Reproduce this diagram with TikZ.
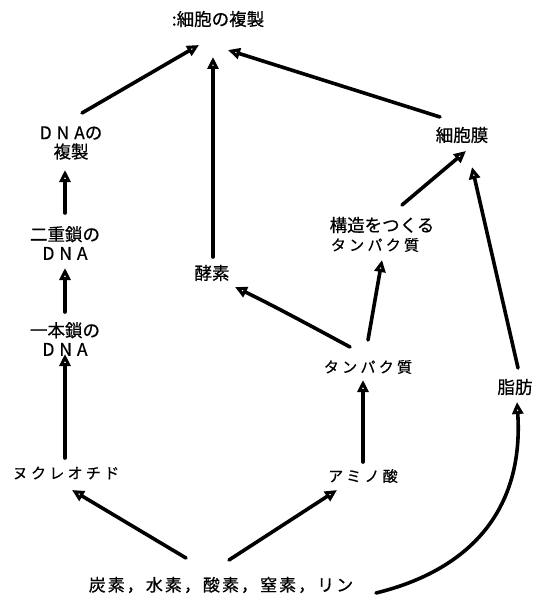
\documentclass[tikz,border=0pt]{standalone}
\usepackage{fontspec}
\setmainfont{Noto Sans CJK JP}
\newfontfamily\jp[FakeBold=0.6]{Noto Sans CJK JP}
\newfontfamily\jpsp[LetterSpace=22,FakeBold=0.6]{Noto Sans CJK JP}
\newfontfamily\jpdna[LetterSpace=28,FakeBold=0.6]{Noto Sans CJK JP}
\newfontfamily\jpel[LetterSpace=12,FakeBold=0.6]{Noto Sans CJK JP}
\usetikzlibrary{arrows.meta}
\begin{document}
\begin{tikzpicture}[x=1pt,y=-1pt,
  lbl/.style={font=\jp\fontsize{17.5}{19}\selectfont, align=center, inner sep=0pt},
  lsp/.style={font=\jpsp\fontsize{15}{19}\selectfont, align=center, inner sep=0pt},
  arr/.style={line width=3.6pt, -{Triangle[open,length=12pt,width=11pt,line width=3pt]}, line cap=round}]
\useasboundingbox (0,0) rectangle (533,599);
\node[lbl] (cell) at (218,19) {:細胞の複製};
\node[lbl] (dnarep) at (71,143) {{\jpdna DNA}の\\複製};
\node[lbl] (ds) at (65,243) {二重鎖の\\{\jpdna DNA}};
\node[lbl] (ss) at (65,339) {一本鎖の\\{\jpdna DNA}};
\node[lsp] (nuc) at (66,473) {ヌクレオチド};
\node[lsp] (amino) at (363,476) {アミノ酸};
\node[lsp] (prot) at (368,367) {タンパク質};
\node[lbl] (sprot) at (382,225) {構造をつくる};
\node[lsp] (sprot2) at (375,245) {タンパク質};
\node[lbl] (enz) at (212,273) {酵素};
\node[lbl] (memb) at (462,135) {細胞膜};
\node[lbl] (fat) at (515,387) {脂肪};
\node[font=\jpel\fontsize{17}{19}\selectfont, inner sep=0pt] (elem) at (221,585) {炭素，水素，酸素，窒素，リン};
\coordinate (c1) at (199,45);
\coordinate (c2) at (213,57);
\coordinate (c3) at (228,50);
\coordinate (m1) at (466,151);
\coordinate (m2) at (472,167);
\coordinate (e1) at (186,558);
\coordinate (e2) at (229,560);
\coordinate (e3) at (376,593);
\draw[arr] (82,113) -- (c1);
\draw[arr] (213,257) -- (c2);
\draw[arr] (440,117) -- (c3);
\draw[arr] (65,213) -- (65,170);
\draw[arr] (65,312) -- (65,268);
\draw[arr] (65,458) -- (65,354);
\draw[arr] (402,205) -- (m1);
\draw[arr] (368,340) -- (382,260);
\draw[arr] (350,347) .. controls (300,320) and (270,304) .. (235,287);
\draw[arr] (363,462) -- (363,380);
\draw[arr] (518,368) -- (m2);
\draw[arr] (e1) -- (72,490);
\draw[arr] (e2) -- (337,490);
\draw[arr] (e3) .. controls (470,570) and (524,510) .. (517,402);
\end{tikzpicture}
\end{document}
